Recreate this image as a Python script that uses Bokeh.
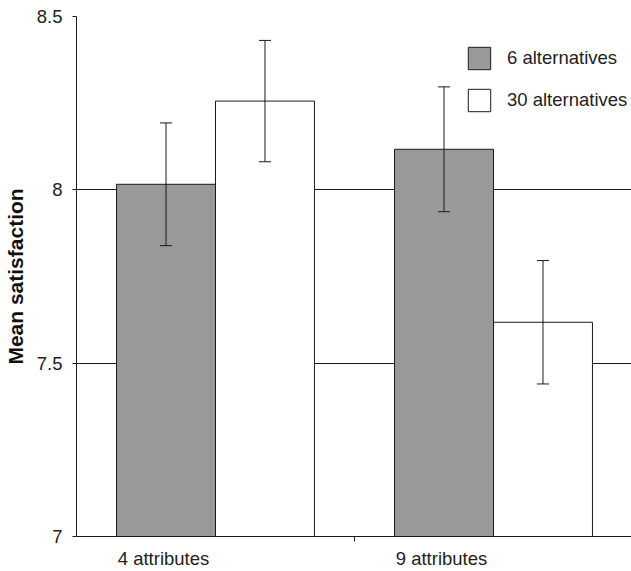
from bokeh.plotting import figure
from bokeh.models import (Range1d, FixedTicker, Whisker, TeeHead, ColumnDataSource,
                          Legend, LegendItem)
from bokeh.embed import file_html
from bokeh.resources import INLINE

categories = ["4 attributes", "9 attributes"]
series_names = ["6 alternatives", "30 alternatives"]
six_alt = [8.016, 8.117]
thirty_alt = [8.256, 7.618]
six_err = [0.177, 0.180]
thirty_err = [0.175, 0.178]
y_ticks = [7, 7.5, 8, 8.5]
y_tick_labels = ["7", "7.5", "8", "8.5"]

FONT = "Liberation Sans"
GRAY = "#999999"
INK = "#1a1a1a"
OFFSET = 0.178
BAR_W = 0.356
LABEL_SHIFT = -0.187

centers = [i + 0.5 for i in range(len(categories))]
label_pos = [c + LABEL_SHIFT for c in centers]

p = figure(width=631, height=571, output_backend="svg", toolbar_location=None,
           x_range=Range1d(0, 555 / 278), y_range=Range1d(7, 8.5),
           min_border_left=0, min_border_right=0, min_border_top=16, min_border_bottom=0)
p.outline_line_color = None
p.background_fill_color = "white"

src6 = ColumnDataSource(dict(x=[c - OFFSET for c in centers], top=six_alt,
                             up=[v + e for v, e in zip(six_alt, six_err)],
                             lo=[v - e for v, e in zip(six_alt, six_err)]))
src30 = ColumnDataSource(dict(x=[c + OFFSET for c in centers], top=thirty_alt,
                              up=[v + e for v, e in zip(thirty_alt, thirty_err)],
                              lo=[v - e for v, e in zip(thirty_alt, thirty_err)]))

r6 = p.vbar(x="x", top="top", bottom=7, width=BAR_W, source=src6,
            fill_color=GRAY, line_color=INK, line_width=1)
r30 = p.vbar(x="x", top="top", bottom=7, width=BAR_W, source=src30,
             fill_color="white", line_color=INK, line_width=1)

for src in (src6, src30):
    w = Whisker(base="x", upper="up", lower="lo", source=src, dimension="height",
                line_color=INK, line_width=1, level="overlay",
                upper_head=TeeHead(size=12, line_color=INK, line_width=1),
                lower_head=TeeHead(size=12, line_color=INK, line_width=1))
    p.add_layout(w)

# grid
p.xgrid.visible = False
p.ygrid.ticker = FixedTicker(ticks=[7.5, 8, 8.5])
p.ygrid.grid_line_color = INK
p.ygrid.grid_line_width = 1

# y axis
p.yaxis.ticker = FixedTicker(ticks=y_ticks)
p.yaxis.major_label_overrides = {t: l for t, l in zip(y_ticks, y_tick_labels)}
p.yaxis.minor_tick_line_color = None
p.yaxis.major_tick_out = 4
p.yaxis.major_tick_in = 0
p.yaxis.major_tick_line_color = INK
p.yaxis.axis_line_color = INK
p.yaxis.major_label_text_font = FONT
p.yaxis.major_label_text_font_size = "18.5px"
p.yaxis.major_label_text_color = "#222222"
p.yaxis.major_label_standoff = 10
p.yaxis.axis_label = "Mean satisfaction"
p.yaxis.axis_label_text_font = FONT
p.yaxis.axis_label_text_font_style = "bold"
p.yaxis.axis_label_text_font_size = "21px"
p.yaxis.axis_label_text_color = "#111111"
p.yaxis.axis_label_standoff = 7

# x axis
p.xaxis.ticker = FixedTicker(ticks=label_pos, minor_ticks=[1.0])
p.xaxis.major_label_overrides = {c: n for c, n in zip(label_pos, categories)}
p.xaxis.major_tick_out = 0
p.xaxis.major_tick_in = 0
p.xaxis.minor_tick_out = 5
p.xaxis.minor_tick_in = 0
p.xaxis.minor_tick_line_color = INK
p.xaxis.axis_line_color = INK
p.xaxis.major_label_text_font = FONT
p.xaxis.major_label_text_font_size = "18.5px"
p.xaxis.major_label_text_color = "#222222"
p.xaxis.major_label_standoff = 6

legend = Legend(items=[LegendItem(label=series_names[0], renderers=[r6]),
                       LegendItem(label=series_names[1], renderers=[r30])],
                location=(389, 422), orientation="vertical",
                glyph_width=28, glyph_height=28, label_standoff=14, spacing=14,
                padding=0, margin=0, border_line_color=None, background_fill_alpha=0,
                label_text_font=FONT, label_text_font_size="18.5px",
                label_text_color="#222222")
p.add_layout(legend)

open("out.html", "w").write(file_html(p, INLINE))
